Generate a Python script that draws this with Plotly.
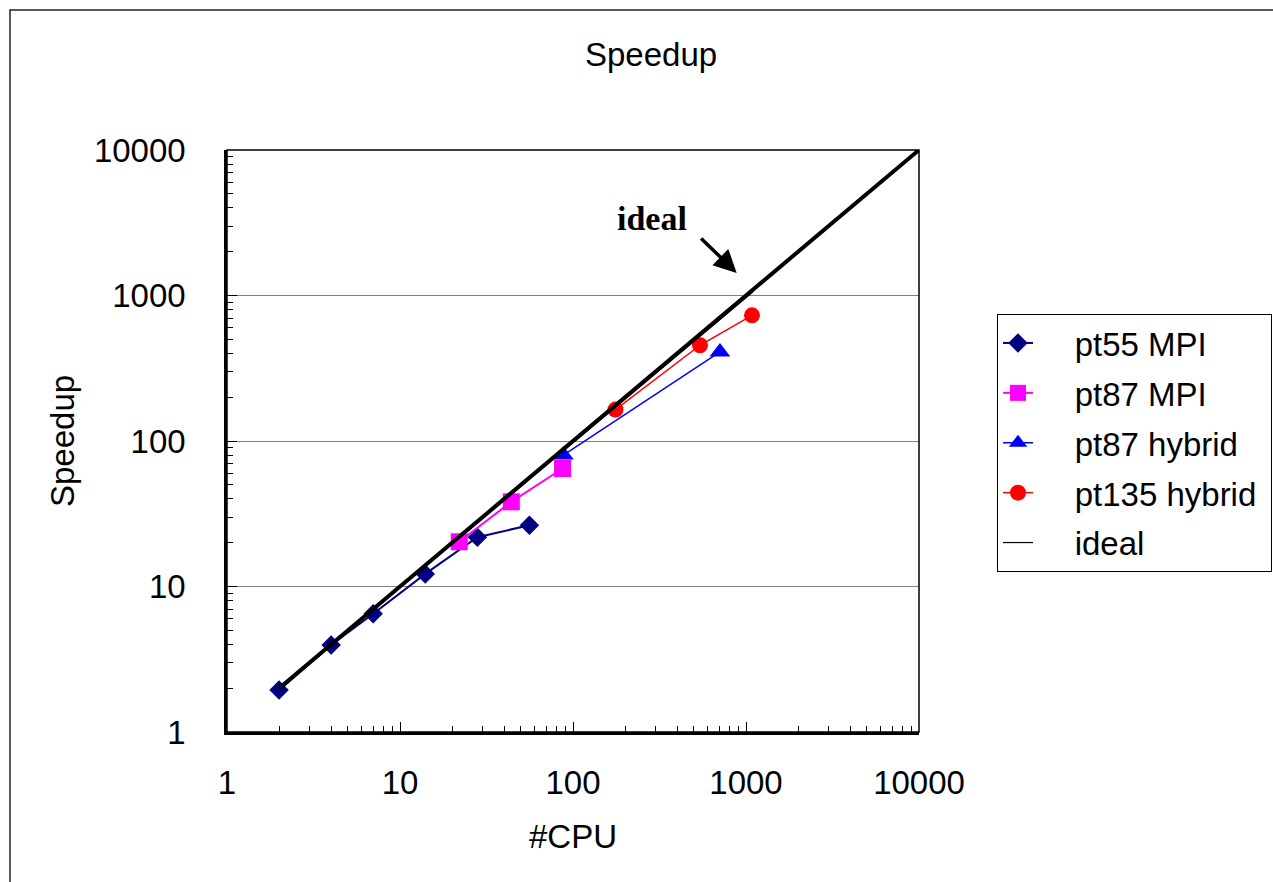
import plotly.graph_objects as go

# ---- data ----
pt55_cpu = [2, 4, 7, 14, 28, 56]
pt55_speedup = [1.94, 3.96, 6.5, 12.2, 21.8, 26.4]

pt87mpi_cpu = [22, 44, 87]
pt87mpi_speedup = [20.3, 38.2, 64.7]

pt87hyb_cpu = [88, 707]
pt87hyb_speedup = [80, 409]

pt135hyb_cpu = [176, 542, 1083]
pt135hyb_speedup = [164.5, 455, 731]

ideal_cpu = [2, 10000]
ideal_speedup = [2, 10000]

ideal2_cpu = [22, 1094]
ideal2_speedup = [21.5, 1057]

ideal3_cpu = [88, 707]
ideal3_speedup = [86, 690]

FONT = "Liberation Sans, Tahoma, sans-serif"
FS = 33
PAD = "\u00a0" * 4
TAIL = "\u00a0"

fig = go.Figure()

fig.add_trace(go.Scatter(x=pt55_cpu, y=pt55_speedup, name=PAD + "pt55 MPI", mode="lines+markers",
                         legendgroup="a",
                         line=dict(color="#000080", width=2),
                         marker=dict(symbol="diamond", size=15, color="#000080")))
fig.add_trace(go.Scatter(x=pt87mpi_cpu, y=pt87mpi_speedup, name=PAD + "pt87 MPI", mode="lines+markers",
                         legendgroup="b",
                         line=dict(color="#FF00FF", width=2),
                         marker=dict(symbol="square", size=17, color="#FF00FF")))
fig.add_trace(go.Scatter(x=pt87hyb_cpu, y=pt87hyb_speedup, name=PAD + "pt87 hybrid", mode="lines+markers",
                         legendgroup="c",
                         line=dict(color="#0000FF", width=1.5),
                         marker=dict(symbol="triangle-up", size=18, color="#0000FF")))
fig.add_trace(go.Scatter(x=pt135hyb_cpu, y=pt135hyb_speedup, name=PAD + "pt135 hybrid" + TAIL, mode="lines+markers",
                         legendgroup="d",
                         line=dict(color="#FF0000", width=1.5),
                         marker=dict(symbol="circle", size=16, color="#FF0000")))
fig.add_trace(go.Scatter(x=ideal2_cpu, y=ideal2_speedup, name=PAD + "ideal", mode="lines",
                         legendgroup="e",
                         line=dict(color="black", width=1.2)))
fig.add_trace(go.Scatter(x=ideal3_cpu, y=ideal3_speedup, name="ideal", mode="lines", showlegend=False,
                         legendgroup="e",
                         line=dict(color="black", width=1.2)))
fig.add_trace(go.Scatter(x=ideal_cpu, y=ideal_speedup, name="ideal", mode="lines", showlegend=False,
                         legendgroup="e",
                         line=dict(color="black", width=4)))

L, R, T, B = 227, 1273 - 919, 150, 882 - 732
PW, PH = 919 - 227, 732 - 150

def px(p):
    return (p - L) / PW

def py(p):
    return (732 - p) / PH

axis_common = dict(
    type="log", range=[0, 4], dtick=1, tickformat="d",
    showline=True, linecolor="black", linewidth=2.5,
    ticks="inside", ticklen=10, tickwidth=1, tickcolor="black",
    tickfont=dict(family=FONT, size=FS, color="black"),
    minor=dict(ticks="inside", ticklen=6, tickwidth=1, tickcolor="black", showgrid=False),
    zeroline=False,
)

fig.update_xaxes(**axis_common, showgrid=False, ticklabelstandoff=20)
fig.update_yaxes(**axis_common, showgrid=True, gridcolor="#808080", gridwidth=1, ticklabelstandoff=32)

fig.update_layout(
    width=1273, height=882,
    margin=dict(l=L, r=R, t=T, b=B, autoexpand=False),
    paper_bgcolor="white", plot_bgcolor="white",
    font=dict(family=FONT, size=FS, color="black"),
    showlegend=True,
    legend=dict(x=px(997), y=py(314), xanchor="left", yanchor="top",
                bgcolor="white", bordercolor="black", borderwidth=1,
                font=dict(family=FONT, size=FS, color="black"),
                traceorder="grouped", tracegroupgap=4,
                itemsizing="trace"),
    shapes=[
        dict(type="rect", xref="paper", yref="paper", x0=0, x1=1, y0=0, y1=1,
             line=dict(color="black", width=1.5), layer="above"),
        dict(type="rect", xref="paper", yref="paper", x0=px(10), x1=px(1300), y0=py(10), y1=py(900),
             line=dict(color="#222222", width=1.5), layer="below"),
    ],
    annotations=[
        dict(text="Speedup", xref="paper", yref="paper", x=px(651), y=py(55),
             xanchor="center", yanchor="middle",
             showarrow=False, font=dict(family=FONT, size=FS, color="black")),
        dict(text="#CPU", xref="paper", yref="paper", x=px(573), y=py(836),
             xanchor="center", yanchor="middle",
             showarrow=False, font=dict(family=FONT, size=FS, color="black")),
        dict(text="Speedup", xref="paper", yref="paper", x=px(62), y=py(441), textangle=-90,
             xanchor="center", yanchor="middle",
             showarrow=False, font=dict(family=FONT, size=FS, color="black")),
        dict(text="<b>ideal</b>", xref="paper", yref="paper", x=px(652), y=py(218),
             xanchor="center", yanchor="middle",
             showarrow=False, font=dict(family="Liberation Serif, Times New Roman, serif", size=34, color="black")),
        dict(text="", x=2.946, y=3.155, xref="x", yref="y", showarrow=True,
             ax=-37, ay=-36, axref="pixel", ayref="pixel",
             arrowhead=2, arrowsize=1.3, arrowwidth=3.5, arrowcolor="black"),
    ],
)

fig.write_html("out.html", config={"displayModeBar": False},
               post_script="document.body.style.margin='0px';document.body.style.overflow='hidden';")
